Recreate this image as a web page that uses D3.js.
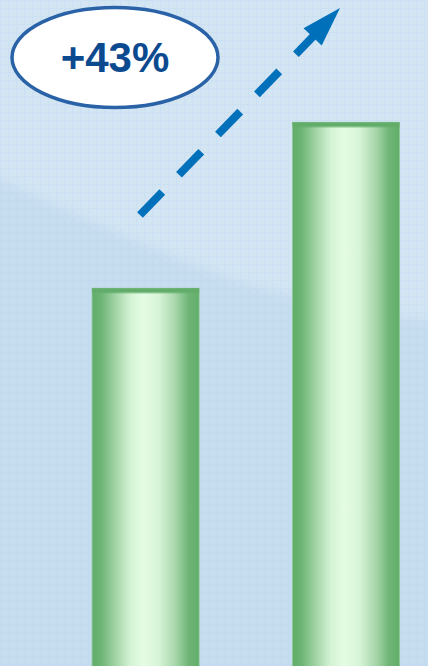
<!DOCTYPE html>
<html>
<head>
<meta charset="utf-8">
<script src="https://cdn.jsdelivr.net/npm/d3@7"></script>
<style>
  html, body { margin: 0; padding: 0; background: #c7ddef; }
  svg { display: block; }
</style>
</head>
<body>
<svg id="chart" width="428" height="666"></svg>
<script>
// ---- data ----
const categories = ["Before", "After"];
const values = [100, 143];
const changeLabel = "+43%";

// ---- setup ----
const W = 428, H = 666;
const svg = d3.select("#chart");
const defs = svg.append("defs");

// background texture pattern
const pat = defs.append("pattern").attr("id", "tex")
  .attr("width", 8).attr("height", 8).attr("patternUnits", "userSpaceOnUse");
pat.append("path").attr("d", "M0 0.5H8M0.5 0V8")
  .attr("stroke", "#b7d4ee").attr("stroke-width", 1).attr("opacity", 0.28);
pat.append("path").attr("d", "M4 4.5H8M4.5 4V8")
  .attr("stroke", "#ffffff").attr("stroke-width", 1).attr("opacity", 0.08);

// blur for the soft band
defs.append("filter").attr("id", "soft").attr("x", "-20%").attr("y", "-20%")
  .attr("width", "140%").attr("height", "140%")
  .append("feGaussianBlur").attr("stdDeviation", 6);

// bar gradient (horizontal)
const g = defs.append("linearGradient").attr("id", "barGrad")
  .attr("x1", "0%").attr("x2", "100%").attr("y1", "0%").attr("y2", "0%");
[
  [0, "#62ad6a"], [0.08, "#6bb473"], [0.22, "#a2d4a6"], [0.36, "#d5f3d5"],
  [0.48, "#e4fce3"], [0.62, "#d8f5d8"], [0.78, "#a7d6aa"], [0.9, "#6fb676"], [1, "#62ad6a"]
].forEach(([o, c]) => g.append("stop").attr("offset", o).attr("stop-color", c));

// top band gradient (vertical)
const tg = defs.append("linearGradient").attr("id", "topGrad")
  .attr("x1", "0%").attr("x2", "0%").attr("y1", "0%").attr("y2", "100%");
tg.append("stop").attr("offset", 0).attr("stop-color", "#63ad6b").attr("stop-opacity", 1);
tg.append("stop").attr("offset", 0.6).attr("stop-color", "#63ad6b").attr("stop-opacity", 1);
tg.append("stop").attr("offset", 1).attr("stop-color", "#63ad6b").attr("stop-opacity", 0);

// ---- background ----
svg.append("rect").attr("width", W).attr("height", H).attr("fill", "#c6dcef");
svg.append("path")
  .attr("d", "M-20 -20 H450 V318 L428 320 C360 312 300 300 240 282 C170 258 90 220 0 180 L-20 172 Z")
  .attr("fill", "#d3e5f3").attr("filter", "url(#soft)");
svg.append("rect").attr("width", W).attr("height", H).attr("fill", "url(#tex)");

// ---- scales ----
const x = d3.scaleBand().domain(categories)
  .range([42, 449.6]).paddingInner(0.466).paddingOuter(0.25);
const y = d3.scaleLinear().domain([0, d3.max(values)]).range([674, 122.3]);

const data = categories.map((c, i) => ({ c, v: values[i] }));

// ---- bars ----
const bars = svg.append("g").selectAll("g").data(data).join("g");
bars.append("rect")
  .attr("x", d => x(d.c)).attr("y", d => y(d.v))
  .attr("width", x.bandwidth()).attr("height", d => y(0) - y(d.v))
  .attr("fill", "url(#barGrad)")
  .attr("stroke", "#8cc894").attr("stroke-width", 0.8);
bars.append("rect")
  .attr("x", d => x(d.c)).attr("y", d => y(d.v))
  .attr("width", x.bandwidth()).attr("height", 6)
  .attr("fill", "url(#topGrad)");

// ---- dashed arrow annotation ----
const arrowStart = [140, 215], arrowBase = [314, 35.5], arrowTip = [340, 8];
svg.append("line")
  .attr("x1", arrowStart[0]).attr("y1", arrowStart[1])
  .attr("x2", arrowBase[0]).attr("y2", arrowBase[1])
  .attr("stroke", "#0070bb").attr("stroke-width", 8)
  .attr("stroke-dasharray", "32 24");
(function () {
  const dx = arrowTip[0] - arrowBase[0], dy = arrowTip[1] - arrowBase[1];
  const len = Math.hypot(dx, dy), ux = dx / len, uy = dy / len;
  const px = -uy, py = ux, hw = 12.5;
  const back = 2;
  const bx = arrowBase[0] - ux * back, by = arrowBase[1] - uy * back;
  svg.append("path")
    .attr("d", `M${arrowTip[0]},${arrowTip[1]} L${bx + px * hw},${by + py * hw} L${bx - px * hw},${by - py * hw} Z`)
    .attr("fill", "#0070bb");
})();

// ---- ellipse label ----
svg.append("ellipse")
  .attr("cx", 115).attr("cy", 57.5).attr("rx", 103).attr("ry", 50)
  .attr("fill", "#ffffff").attr("stroke", "#2a62a7").attr("stroke-width", 3.5);
svg.append("text")
  .attr("x", 115).attr("y", 72)
  .attr("text-anchor", "middle")
  .attr("font-family", "'Liberation Sans', Arial, sans-serif")
  .attr("font-weight", "bold").attr("font-size", 42)
  .attr("fill", "#0c4a90")
  .text(changeLabel);
</script>
</body>
</html>
